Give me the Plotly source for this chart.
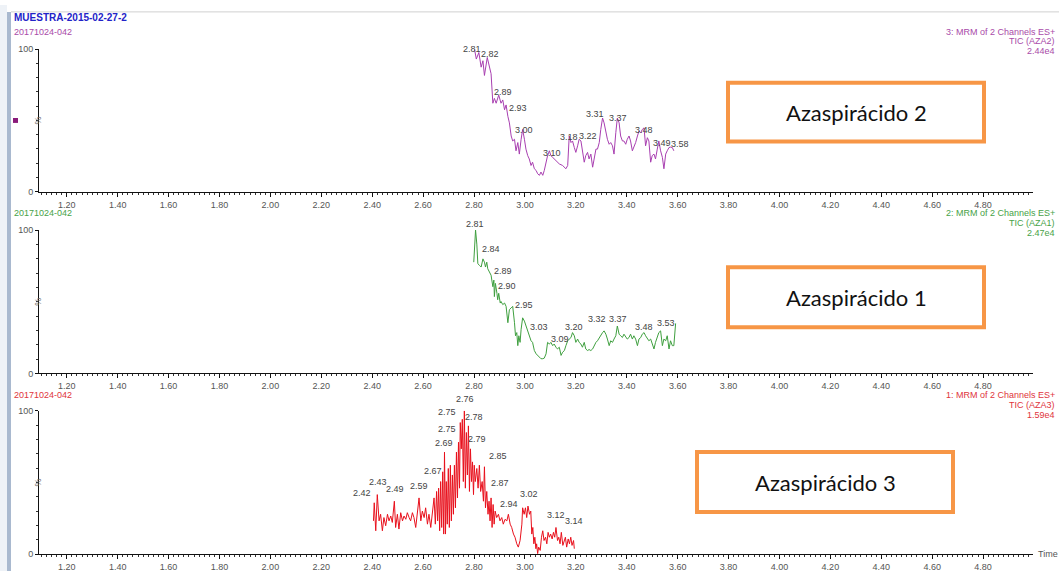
import plotly.graph_objects as go

W, H = 1059, 576

# ---------------- Channel 3: TIC (AZA2) ----------------
aza2_time = [
    2.802, 2.809, 2.819, 2.828, 2.835, 2.841, 2.852, 2.861, 2.867, 2.874,
    2.880, 2.887, 2.897, 2.906, 2.913, 2.920, 2.926, 2.933, 2.939, 2.946,
    2.952, 2.959, 2.965, 2.972, 2.978, 2.985, 2.991, 2.998, 3.004, 3.011,
    3.017, 3.024, 3.030, 3.037, 3.044, 3.050, 3.057, 3.063, 3.070, 3.076,
    3.083, 3.089, 3.096, 3.102, 3.109, 3.122, 3.135, 3.148, 3.161, 3.168,
    3.174, 3.181, 3.187, 3.194, 3.200, 3.207, 3.213, 3.220, 3.226, 3.233,
    3.239, 3.246, 3.252, 3.259, 3.266, 3.272, 3.279, 3.285, 3.292, 3.298,
    3.305, 3.311, 3.318, 3.324, 3.331, 3.337, 3.344, 3.350, 3.357, 3.363,
    3.370, 3.376, 3.383, 3.389, 3.396, 3.402, 3.409, 3.415, 3.422, 3.428,
    3.435, 3.442, 3.448, 3.455, 3.461, 3.468, 3.474, 3.481, 3.487, 3.494,
    3.500, 3.507, 3.513, 3.520, 3.526, 3.533, 3.540, 3.546, 3.553, 3.559,
    3.566, 3.572, 3.579, 3.585,
]
aza2_pct = [
    100.0, 93.1, 97.7, 87.4, 91.9, 81.6, 94.2, 87.4, 82.8, 62.1,
    65.5, 62.1, 67.8, 62.1, 64.4, 57.5, 60.9, 52.9, 48.3, 39.1,
    35.6, 36.8, 28.7, 34.5, 26.4, 36.8, 43.7, 36.8, 29.9, 25.3,
    23.0, 18.4, 20.7, 16.1, 14.9, 12.6, 11.5, 13.8, 11.5, 14.9,
    20.7, 25.3, 28.7, 25.3, 24.1, 21.8, 19.5, 18.4, 16.1, 18.4,
    39.1, 34.5, 35.6, 31.0, 27.6, 32.2, 36.8, 35.6, 29.9, 20.7,
    25.3, 27.6, 23.0, 26.4, 17.2, 23.0, 29.9, 29.9, 34.5, 43.7,
    51.7, 48.3, 41.4, 36.8, 33.3, 34.5, 32.2, 26.4, 41.4, 51.7,
    48.3, 39.1, 35.6, 35.6, 33.3, 36.8, 39.1, 35.6, 28.7, 31.0,
    34.5, 39.1, 42.5, 41.4, 43.7, 44.8, 32.2, 37.9, 35.6, 20.7,
    25.3, 26.4, 23.0, 29.9, 35.6, 28.7, 24.1, 16.1, 26.4, 28.7,
    31.0, 31.3, 31.0, 28.7,
]
aza2_peaks = ["2.81", "2.82", "2.89", "2.93", "3.00", "3.10", "3.18",
              "3.22", "3.31", "3.37", "3.48", "3.49", "3.58"]
aza2_peak_x = [2.794, 2.861, 2.912, 2.974, 2.998, 3.108, 3.174,
               3.249, 3.276, 3.366, 3.468, 3.538, 3.609]
aza2_peak_y = [104.8, 101.6, 74.7, 63.7, 48.3, 32.4, 43.4,
               44.1, 59.3, 56.5, 48.3, 39.3, 38.6]

# ---------------- Channel 2: TIC (AZA1) ----------------
aza1_time = [
    2.799, 2.806, 2.811, 2.815, 2.822, 2.828, 2.835, 2.841, 2.845, 2.850,
    2.854, 2.861, 2.867, 2.874, 2.878, 2.880, 2.884, 2.890, 2.893, 2.897,
    2.903, 2.906, 2.913, 2.920, 2.926, 2.933, 2.939, 2.946, 2.952, 2.959,
    2.963, 2.968, 2.972, 2.976, 2.981, 2.985, 2.991, 2.998, 3.004, 3.011,
    3.017, 3.024, 3.030, 3.037, 3.044, 3.050, 3.057, 3.063, 3.070, 3.076,
    3.083, 3.089, 3.096, 3.102, 3.109, 3.115, 3.122, 3.128, 3.135, 3.142,
    3.148, 3.155, 3.161, 3.168, 3.174, 3.181, 3.187, 3.194, 3.200, 3.207,
    3.213, 3.220, 3.226, 3.233, 3.239, 3.246, 3.252, 3.259, 3.266, 3.272,
    3.279, 3.285, 3.292, 3.298, 3.305, 3.311, 3.318, 3.324, 3.331, 3.337,
    3.344, 3.350, 3.357, 3.363, 3.370, 3.376, 3.383, 3.389, 3.396, 3.402,
    3.409, 3.415, 3.422, 3.428, 3.435, 3.442, 3.448, 3.455, 3.461, 3.468,
    3.474, 3.481, 3.487, 3.494, 3.500, 3.507, 3.513, 3.520, 3.526, 3.533,
    3.540, 3.546, 3.553, 3.559, 3.566, 3.572, 3.579, 3.585, 3.592,
]
aza1_pct = [
    77.6, 100.0, 90.2, 76.5, 75.3, 74.2, 79.9, 77.6, 74.2, 77.6,
    73.0, 70.8, 68.5, 60.5, 65.1, 53.6, 62.8, 55.9, 51.4, 55.9,
    49.1, 50.2, 48.0, 49.1, 46.8, 35.4, 44.5, 45.7, 46.8, 35.4,
    26.3, 28.5, 19.4, 26.3, 21.7, 30.8, 38.8, 36.5, 33.1, 29.7,
    26.3, 22.8, 21.7, 16.0, 13.7, 12.6, 10.7, 10.3, 10.3, 10.7,
    13.7, 21.7, 20.5, 21.7, 19.4, 20.5, 18.3, 17.1, 18.3, 12.6,
    14.8, 16.0, 19.4, 22.8, 24.0, 25.1, 28.5, 26.3, 21.7, 24.0,
    21.7, 20.5, 18.3, 21.7, 17.1, 16.0, 16.7, 16.0, 17.1, 19.4,
    21.7, 22.8, 25.1, 26.3, 28.5, 29.7, 27.4, 24.0, 19.4, 22.8,
    21.7, 24.0, 26.3, 33.1, 27.4, 26.3, 25.1, 27.4, 25.1, 24.0,
    25.1, 27.4, 24.0, 26.3, 24.0, 19.4, 24.0, 25.1, 27.4, 28.5,
    26.3, 24.0, 22.8, 24.0, 20.5, 17.1, 21.7, 26.3, 28.5, 29.7,
    19.4, 24.0, 22.8, 26.3, 17.1, 22.8, 19.4, 19.4, 34.9,
]
aza1_peaks = ["2.81", "2.84", "2.89", "2.90", "2.95", "3.03", "3.09",
              "3.20", "3.32", "3.37", "3.48", "3.53"]
aza1_peak_x = [2.805, 2.867, 2.913, 2.929, 2.995, 3.057, 3.138,
               3.194, 3.283, 3.366, 3.468, 3.555]
aza1_peak_y = [104.3, 86.8, 71.2, 61.0, 47.9, 32.4, 24.0,
               32.4, 37.7, 37.7, 32.4, 35.4]

# ---------------- Channel 1: TIC (AZA3) ----------------
aza3_time = [
    2.405, 2.408, 2.414, 2.420, 2.427, 2.433, 2.440, 2.446, 2.453, 2.460,
    2.466, 2.473, 2.479, 2.487, 2.492, 2.499, 2.505, 2.512, 2.519, 2.525,
    2.532, 2.538, 2.545, 2.551, 2.558, 2.564, 2.571, 2.577, 2.584, 2.591,
    2.597, 2.604, 2.610, 2.617, 2.623, 2.630, 2.636, 2.643, 2.648, 2.653,
    2.657, 2.661, 2.665, 2.669, 2.673, 2.677, 2.681, 2.684, 2.688, 2.691,
    2.695, 2.699, 2.703, 2.707, 2.711, 2.715, 2.719, 2.723, 2.727, 2.731,
    2.735, 2.739, 2.743, 2.746, 2.750, 2.754, 2.758, 2.762, 2.766, 2.770,
    2.774, 2.778, 2.782, 2.786, 2.790, 2.794, 2.798, 2.801, 2.805, 2.811,
    2.816, 2.821, 2.826, 2.832, 2.837, 2.841, 2.845, 2.850, 2.855, 2.859,
    2.863, 2.867, 2.871, 2.875, 2.879, 2.883, 2.889, 2.896, 2.902, 2.909,
    2.915, 2.922, 2.929, 2.935, 2.942, 2.948, 2.955, 2.961, 2.968, 2.974,
    2.981, 2.988, 2.991, 2.997, 3.002, 3.007, 3.012, 3.018, 3.023, 3.027,
    3.031, 3.035, 3.039, 3.043, 3.046, 3.050, 3.054, 3.060, 3.065, 3.070,
    3.075, 3.081, 3.086, 3.091, 3.096, 3.101, 3.107, 3.112, 3.117, 3.122,
    3.128, 3.133, 3.138, 3.143, 3.149, 3.154, 3.159, 3.164, 3.170, 3.175,
    3.180, 3.185, 3.191, 3.194,
]
aza3_pct = [
    23.3, 35.9, 16.4, 41.6, 23.3, 27.9, 16.4, 25.6, 19.9, 27.9,
    23.3, 26.7, 22.2, 37.0, 18.7, 27.9, 17.6, 29.0, 23.3, 26.7,
    24.4, 29.0, 25.6, 23.3, 29.0, 25.6, 18.7, 29.0, 39.3, 23.3,
    30.1, 25.6, 32.4, 21.0, 27.9, 18.7, 30.1, 39.3, 21.0, 43.8,
    23.3, 46.1, 16.4, 50.7, 18.7, 57.5, 14.1, 71.2, 14.1, 50.7,
    21.0, 59.8, 18.7, 62.1, 23.3, 55.3, 27.9, 62.1, 32.4, 71.2,
    39.3, 78.1, 46.1, 91.8, 73.5, 94.1, 50.7, 100.0, 46.1, 84.9,
    55.3, 89.5, 43.8, 73.5, 50.7, 64.4, 41.6, 62.1, 50.7, 59.8,
    46.1, 62.1, 43.8, 50.7, 37.0, 61.0, 32.4, 43.8, 27.9, 37.0,
    23.3, 39.3, 18.7, 34.7, 21.0, 30.1, 25.6, 27.9, 23.3, 25.6,
    21.0, 24.4, 23.3, 27.9, 21.0, 18.7, 14.1, 11.9, 7.3, 5.0,
    9.6, 21.0, 32.4, 27.9, 32.4, 25.6, 33.6, 27.9, 30.1, 14.1,
    18.7, 7.3, 11.9, 3.9, 7.3, 0.5, 5.0, 2.7, 11.9, 16.4,
    9.6, 11.9, 7.3, 15.3, 11.9, 14.1, 10.7, 15.3, 11.9, 18.7,
    9.6, 11.9, 7.3, 15.3, 6.2, 9.6, 11.9, 5.0, 10.7, 7.3,
    11.9, 6.2, 9.6, 3.9,
]
aza3_peaks = ["2.42", "2.43", "2.49", "2.59", "2.67", "2.69", "2.75", "2.75",
              "2.76", "2.78", "2.79", "2.85", "2.87", "2.94", "3.02", "3.12",
              "3.14"]
aza3_peak_x = [2.361, 2.424, 2.490, 2.585, 2.638, 2.684, 2.695, 2.693,
               2.765, 2.801, 2.811, 2.896, 2.902, 2.938, 3.016, 3.121,
               3.194]
aza3_peak_y = [38.1, 45.7, 40.4, 42.7, 53.0, 72.4, 94.5, 82.2,
               103.7, 90.6, 75.3, 63.9, 45.0, 30.1, 37.4, 22.6,
               18.3]

# Per-panel header text: (run id, function, TIC name, intensity)
panels = [
    dict(t=aza2_time, v=aza2_pct, color="#a83fb0", txt="#a94aa9",
         func="3: MRM of 2 Channels ES+", tic="TIC (AZA2)", inten="2.44e4",
         peaks=(aza2_peaks, aza2_peak_x, aza2_peak_y), name="Azaspirácido 2"),
    dict(t=aza1_time, v=aza1_pct, color="#3f9f3f", txt="#47a247",
         func="2: MRM of 2 Channels ES+", tic="TIC (AZA1)", inten="2.47e4",
         peaks=(aza1_peaks, aza1_peak_x, aza1_peak_y), name="Azaspirácido 1"),
    dict(t=aza3_time, v=aza3_pct, color="#e8101c", txt="#e0343c",
         func="1: MRM of 2 Channels ES+", tic="TIC (AZA3)", inten="1.59e4",
         peaks=(aza3_peaks, aza3_peak_x, aza3_peak_y), name="Azaspirácido 3"),
]
run_id = "20171024-042"
sample = "MUESTRA-2015-02-27-2"

# ---------------- layout geometry (pixels) ----------------
def fx(px):
    return px / W

def fy(py):
    return 1 - py / H

AX_LEFT, AX_RIGHT = 39, 1033
X_RANGE = [1.091, 4.996]
panel_px = [(45, 190), (229, 375), (413, 559)]          # (100 %, 0 %) rows
header_px = [27, 212, 397]                              # run id / function row
box_px = [(728, 79, 984, 139), (728, 267, 984, 328), (697, 455, 953, 516)]

FONT = "Arial, Liberation Sans, sans-serif"

fig = go.Figure()
annotations = []
shapes = []
layout_axes = {}

for i, p in enumerate(panels):
    n = "" if i == 0 else str(i + 1)
    xa, ya = "x" + n, "y" + n
    top, bot = panel_px[i]
    d0, d1 = fy(bot), fy(top)

    fig.add_trace(go.Scatter(
        x=p["t"], y=p["v"], mode="lines", xaxis=xa, yaxis=ya,
        line=dict(color=p["color"], width=1), hoverinfo="skip",
        showlegend=False,
    ))

    layout_axes["xaxis" + n] = dict(
        domain=[fx(AX_LEFT), fx(AX_RIGHT)], range=X_RANGE, anchor=ya,
        showline=True, linecolor="#111", linewidth=1, showgrid=False,
        zeroline=False, ticks="outside", ticklen=4, tickcolor="#111",
        tick0=1.2, dtick=0.2, tickformat=".2f",
        tickfont=dict(family=FONT, size=9, color="#555"),
        minor=dict(ticks="outside", ticklen=2, tick0=1.2, dtick=0.02,
                   tickcolor="#333", showgrid=False),
        fixedrange=True,
    )
    layout_axes["yaxis" + n] = dict(
        domain=[d0, d1], range=[0, 100], anchor=xa,
        showline=True, linecolor="#111", linewidth=1, showgrid=False,
        zeroline=False, ticks="outside", ticklen=3, tickcolor="#111",
        tickmode="array", tickvals=[0, 100], ticktext=["0", "100"],
        tickfont=dict(family=FONT, size=9, color="#555"),
        minor=dict(ticks="outside", ticklen=2, tickcolor="#333",
                   tickvals=[10, 20, 30, 40, 50, 60, 70, 80, 90]),
        fixedrange=True,
    )

    # rotated % sign on the intensity axis
    annotations.append(dict(
        x=fx(31), y=50, xref="paper", yref=ya, text="%", textangle=-90,
        showarrow=False, font=dict(family=FONT, size=9, color="#666"),
    ))

    # peak retention-time labels (paper y so labels above 100 % still show)
    labels, lx, ly = p["peaks"]
    for s, x, y in zip(labels, lx, ly):
        annotations.append(dict(
            x=x, y=d0 + (d1 - d0) * y / 100.0, xref=xa, yref="paper",
            text=s, showarrow=False,
            font=dict(family=FONT, size=9, color="#444"),
        ))

    # run id (left) and function description (right)
    hy = header_px[i]
    annotations.append(dict(
        x=fx(12), y=fy(hy), xref="paper", yref="paper", text=run_id,
        xanchor="left", yanchor="middle", showarrow=False,
        font=dict(family=FONT, size=9, color=p["txt"]),
    ))
    for k, line in enumerate([p["func"], p["tic"], p["inten"]]):
        annotations.append(dict(
            x=fx(1057), y=fy(hy + 10 * k), xref="paper", yref="paper",
            text=line, xanchor="right", yanchor="middle", showarrow=False,
            font=dict(family=FONT, size=9, color=p["txt"]),
        ))

    # compound name box
    x0, y0, x1, y1 = box_px[i]
    shapes.append(dict(
        type="rect", xref="paper", yref="paper",
        x0=fx(x0), x1=fx(x1), y0=fy(y0), y1=fy(y1),
        line=dict(color="#f79646", width=4), fillcolor="white",
    ))
    annotations.append(dict(
        x=fx((x0 + x1) / 2), y=fy((y0 + y1) / 2), xref="paper", yref="paper",
        text=p["name"], showarrow=False, xanchor="center", yanchor="middle",
        font=dict(family="Lato, Carlito, sans-serif", size=22, color="#111"),
    ))

# sample name at the top
annotations.append(dict(
    x=fx(12), y=fy(13), xref="paper", yref="paper",
    text="<b>" + sample + "</b>", xanchor="left", yanchor="middle",
    showarrow=False, font=dict(family=FONT, size=10, color="#2323c8"),
))
# time axis title
annotations.append(dict(
    x=fx(1036), y=fy(559), xref="paper", yref="paper", text="Time",
    xanchor="left", yanchor="middle", showarrow=False,
    font=dict(family=FONT, size=9, color="#555"),
))

# window frame: left bar and top rule
shapes += [
    dict(type="rect", xref="paper", yref="paper", x0=fx(0), x1=fx(7),
         y0=0, y1=1, line=dict(width=0), fillcolor="#eef2f7", layer="below"),
    dict(type="rect", xref="paper", yref="paper", x0=fx(7), x1=fx(11),
         y0=0, y1=fy(7), line=dict(width=0), fillcolor="#a9b9cf"),
    dict(type="line", xref="paper", yref="paper", x0=fx(11), x1=1,
         y0=fy(7), y1=fy(7), line=dict(color="#d0d0d0", width=1)),
    # channel selection marker
    dict(type="rect", xref="paper", yref="paper", x0=fx(13), x1=fx(18),
         y0=fy(120), y1=fy(115), line=dict(width=0), fillcolor="#8a1a7a"),
]

fig.update_layout(
    width=W, height=H, margin=dict(l=0, r=0, t=0, b=0),
    paper_bgcolor="white", plot_bgcolor="white", showlegend=False,
    annotations=annotations, shapes=shapes, **layout_axes,
)

fig.write_html("out.html")
